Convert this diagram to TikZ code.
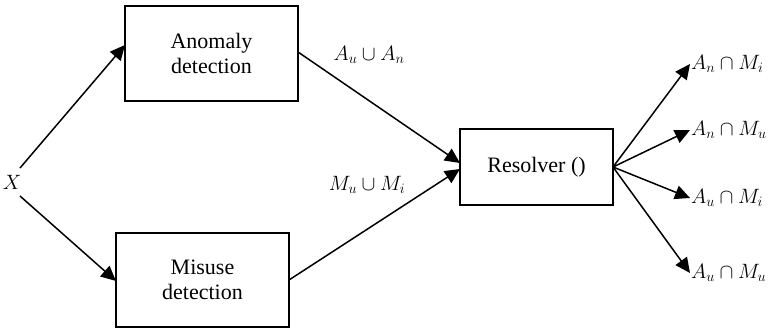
\documentclass[tikz,border=0pt]{standalone}
\usepackage{fontspec}
\setmainfont{Liberation Serif}
\usetikzlibrary{arrows.meta}
\begin{document}
\begin{tikzpicture}[x=1pt,y=-1pt,
  blk/.style={draw,line width=1.6pt,inner sep=0pt,font=\fontsize{22}{25}\selectfont,align=center},
  lbl/.style={font=\fontsize{22}{26}\selectfont,inner sep=1pt},
  conn/.style={line width=1.5pt,-{Triangle[length=15pt,width=14pt]}}]
\useasboundingbox (0,0) rectangle (779,329);
\node[blk,minimum width=173pt,minimum height=95pt] (anom) at (211.5,53.5) {Anomaly\\detection};
\node[blk,minimum width=173pt,minimum height=94pt] (mis) at (202.5,280) {Misuse\\detection};
\node[blk,minimum width=153pt,minimum height=76pt] (res) at (536.5,167) {Resolver ()};
\node[lbl] (x) at (12,182) {$X$};
\coordinate (xu) at (20,168);
\coordinate (xd) at (20,196);
\coordinate (ain) at (125,45);
\coordinate (min) at (116,281);
\coordinate (aout) at (298,52);
\coordinate (mout) at (289,280);
\coordinate (rin1) at (460,163);
\coordinate (rin2) at (460,169);
\coordinate (rout) at (613,167);
\node[lbl,anchor=west] (o1) at (690,64) {$A_n\cap M_i$};
\node[lbl,anchor=west] (o2) at (690,130) {$A_n\cap M_u$};
\node[lbl,anchor=west] (o3) at (690,198) {$A_u\cap M_i$};
\node[lbl,anchor=west] (o4) at (690,273) {$A_u\cap M_u$};
\node[lbl] (lu) at (369,55) {$A_u\cup A_n$};
\node[lbl] (lm) at (367,185) {$M_u\cup M_i$};
\draw[conn] (xu) -- (ain);
\draw[conn] (xd) -- (min);
\draw[conn] (aout) -- (rin1);
\draw[conn] (mout) -- (rin2);
\draw[conn] (rout) -- (o1.west);
\draw[conn] (rout) -- (o2.west);
\draw[conn] (rout) -- (o3.west);
\draw[conn] (rout) -- (o4.west);
\end{tikzpicture}
\end{document}
